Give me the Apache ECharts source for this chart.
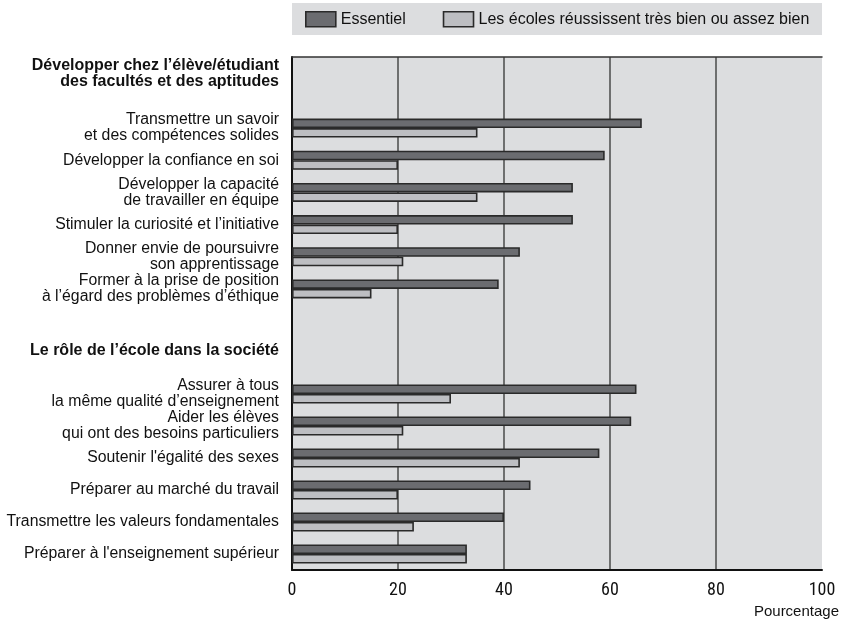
<!DOCTYPE html>
<html>
<head>
<meta charset="utf-8">
<script src="https://cdn.jsdelivr.net/npm/echarts@6/dist/echarts.min.js"></script>
<style>
  html, body { margin: 0; padding: 0; background: #ffffff; }
  #chart { width: 842px; height: 620px; }
</style>
</head>
<body>
<div id="chart"></div>
<script>
// Priorities of schooling: share judging each goal essential vs. share saying schools do well
const seriesNames = ['Essentiel', 'Les écoles réussissent très bien ou assez bien'];

const groupTitles = [
  'Développer chez l’élève/étudiant\ndes facultés et des aptitudes',
  'Le rôle de l’école dans la société'
];

const skillsLabels = [
  'Transmettre un savoir\net des compétences solides',
  'Développer la confiance en soi',
  'Développer la capacité\nde travailler en équipe',
  'Stimuler la curiosité et l’initiative',
  'Donner envie de poursuivre\nson apprentissage',
  'Former à la prise de position\nà l’égard des problèmes d’éthique'
];
const skillsEssential = [66, 59, 53, 53, 43, 39];
const skillsDoingWell = [35, 20, 35, 20, 21, 15];

const societyLabels = [
  'Assurer à tous\nla même qualité d’enseignement',
  'Aider les élèves\nqui ont des besoins particuliers',
  'Soutenir l\'égalité des sexes',
  'Préparer au marché du travail',
  'Transmettre les valeurs fondamentales',
  'Préparer à l\'enseignement supérieur'
];
const societyEssential = [65, 64, 58, 45, 40, 33];
const societyDoingWell = [30, 21, 43, 20, 23, 33];

const xTicks = { min: 0, max: 100, interval: 20 };
const axisTitle = 'Pourcentage';

const FONT = '"Liberation Sans", Arial, Helvetica, sans-serif';
const NARROW = '"Liberation Sans Narrow", "Roboto Condensed", "DejaVu Sans Condensed", sans-serif';
const PANEL = '#dcdddf';
const DARK = '#6b6c70';
const LIGHT = '#bdbec2';
const EDGE = '#2a2a2a';
const INK = '#111111';

const chart = echarts.init(document.getElementById('chart'), null, { renderer: 'canvas' });

function categoryAxis(gridIndex, labels) {
  return {
    type: 'category', gridIndex: gridIndex, data: labels, inverse: true,
    axisLine: { show: false }, axisTick: { show: false },
    axisLabel: {
      fontFamily: FONT, fontSize: 15.8, lineHeight: 16, color: INK,
      margin: 13, align: 'right'
    }
  };
}
function hiddenValueAxis(gridIndex) {
  return { type: 'value', gridIndex: gridIndex, min: xTicks.min, max: xTicks.max, show: false };
}
function barSeries(name, xIdx, yIdx, values, fill) {
  return {
    name: name, type: 'bar', xAxisIndex: xIdx, yAxisIndex: yIdx,
    data: values, barWidth: 9.5, barGap: '0%',
    itemStyle: { color: fill, borderColor: EDGE, borderWidth: 1.6 },
    emphasis: { disabled: true }, animation: false
  };
}
function heading(text, y) {
  return {
    type: 'text', x: 279, y: y, silent: true,
    style: {
      text: text, fontFamily: FONT, fontWeight: 'bold', fontSize: 16, lineHeight: 16,
      fill: INK, align: 'right', verticalAlign: 'top'
    }
  };
}

chart.setOption({
  animation: false,
  grid: [
    { left: 292, right: 20, top: 57, bottom: 50, show: true, backgroundColor: PANEL, borderWidth: 0 },
    { left: 292, right: 20, top: 112, height: 193 },
    { left: 292, right: 20, top: 378, bottom: 50 }
  ],
  legend: {
    left: 305, top: 11, padding: 0, itemWidth: 30, itemHeight: 15, itemGap: 37, icon: 'rect',
    selectedMode: false,
    textStyle: { fontFamily: FONT, fontSize: 16, color: INK },
    itemStyle: { borderColor: EDGE, borderWidth: 1.6 },
    data: seriesNames
  },
  graphic: [
    { type: 'rect', left: 292, top: 3, shape: { width: 530, height: 32 }, style: { fill: PANEL }, z: -10, silent: true },
    heading(groupTitles[0], 58),
    heading(groupTitles[1], 343),
    { type: 'text', x: 839, y: 604, silent: true, style: { text: axisTitle, fontFamily: FONT, fontSize: 15, fill: INK, align: 'right', verticalAlign: 'top' } }
  ],
  xAxis: [
    {
      type: 'value', gridIndex: 0, position: 'bottom',
      min: xTicks.min, max: xTicks.max, interval: xTicks.interval,
      axisLine: { show: true, lineStyle: { color: INK, width: 2 } },
      axisTick: { show: false },
      axisLabel: { fontFamily: NARROW, fontSize: 18, color: INK, margin: 11 },
      splitLine: { show: true, showMinLine: false, showMaxLine: false, lineStyle: { color: '#4a4a4a', width: 1.5 } }
    },
    {
      type: 'value', gridIndex: 0, position: 'top',
      min: xTicks.min, max: xTicks.max,
      axisLine: { show: true, lineStyle: { color: '#333', width: 1.5 } },
      axisTick: { show: false }, axisLabel: { show: false }, splitLine: { show: false }
    },
    hiddenValueAxis(1),
    hiddenValueAxis(2)
  ],
  yAxis: [
    {
      type: 'category', gridIndex: 0, data: [''],
      axisLine: { show: true, lineStyle: { color: INK, width: 2 } },
      axisTick: { show: false }, axisLabel: { show: false }, splitLine: { show: false }
    },
    categoryAxis(1, skillsLabels),
    categoryAxis(2, societyLabels)
  ],
  series: [
    { type: 'bar', xAxisIndex: 0, yAxisIndex: 0, data: [], silent: true },
    { type: 'bar', xAxisIndex: 1, yAxisIndex: 0, data: [], silent: true },
    barSeries(seriesNames[0], 2, 1, skillsEssential, DARK),
    barSeries(seriesNames[1], 2, 1, skillsDoingWell, LIGHT),
    barSeries(seriesNames[0], 3, 2, societyEssential, DARK),
    barSeries(seriesNames[1], 3, 2, societyDoingWell, LIGHT)
  ]
});
</script>
</body>
</html>
